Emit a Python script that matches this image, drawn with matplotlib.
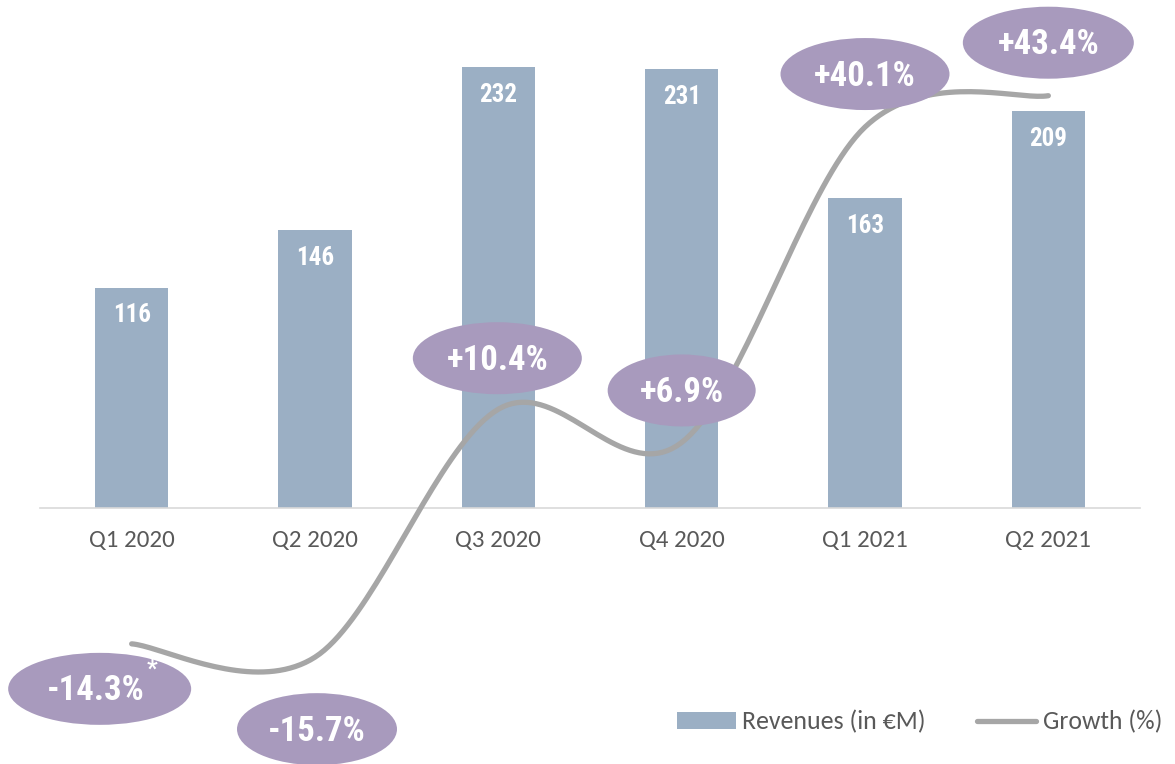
import numpy as np
import matplotlib.pyplot as plt
from matplotlib import transforms
from matplotlib.patches import Ellipse, Patch
from matplotlib.lines import Line2D

quarters = ['Q1 2020', 'Q2 2020', 'Q3 2020', 'Q4 2020', 'Q1 2021', 'Q2 2021']
revenues = [116, 146, 232, 231, 163, 209]
growth = [-14.3, -15.7, 10.4, 6.9, 40.1, 43.4]

BAR_COLOR = '#9BAFC4'
LINE_COLOR = '#A6A6A6'
BUBBLE_COLOR = '#A89ABD'
TEXT_GRAY = '#595959'
NARROW = ['Roboto Condensed', 'DejaVu Sans']
plt.rcParams['font.family'] = ['Carlito', 'DejaVu Sans']


def catmull_rom(xs, ys, n=40):
    """Smooth line through the points, like a spreadsheet's smoothed line."""
    pts = np.column_stack([xs, ys]).astype(float)
    pts = np.vstack([pts[0], pts, pts[-1]])
    out = []
    for k in range(1, len(pts) - 2):
        p0, p1, p2, p3 = pts[k - 1], pts[k], pts[k + 1], pts[k + 2]
        t = np.linspace(0, 1, n)[:, None]
        seg = 0.5 * ((2 * p1) + (-p0 + p2) * t
                     + (2 * p0 - 5 * p1 + 4 * p2 - p3) * t ** 2
                     + (-p0 + 3 * p1 - 3 * p2 + p3) * t ** 3)
        out.append(seg if k == 1 else seg[1:])
    out = np.vstack(out)
    return out[:, 0], out[:, 1]


def at_point(ax, i, v, dx, dy):
    # pixel offset from a data point
    return transforms.Affine2D().translate(dx, dy) + \
        transforms.ScaledTranslation(i, v, ax.transData)


fig = plt.figure(figsize=(11.75, 7.64), dpi=100)
H = 764
base_px = 508  # baseline, pixels from the top
ax = fig.add_axes([40 / 1175, 0, 1100 / 1175, 1])
x = np.arange(len(quarters))

bars = ax.bar(x, revenues, width=0.40, color=BAR_COLOR, zorder=2)
bar_scale = 441 / 232  # px per unit
ax.set_ylim(-(H - base_px) / bar_scale, base_px / bar_scale)
ax.set_xlim(-0.5, 5.5)

for rect, v in zip(bars, revenues):
    ax.annotate(f'{v}', xy=(rect.get_x() + rect.get_width() / 2, v),
                xytext=(0, -28), textcoords='offset pixels',
                ha='center', va='center', color='white',
                fontsize=18, fontweight='bold', family=NARROW, zorder=3)

for s in ['top', 'right', 'left']:
    ax.spines[s].set_visible(False)
ax.spines['bottom'].set_position(('data', 0))
ax.spines['bottom'].set_color('#D9D9D9')
ax.spines['bottom'].set_linewidth(1.2)
ax.set_yticks([])
ax.set_xticks(x, quarters)
ax.tick_params(axis='x', length=0, pad=16, labelsize=18, labelcolor=TEXT_GRAY)

# growth line on its own scale, zero lined up with the baseline
ax2 = ax.twinx()
g_scale = 9.5
ax2.set_ylim(-(H - base_px) / g_scale, base_px / g_scale)
ax2.set_yticks([])
for s in ax2.spines.values():
    s.set_visible(False)

sx, sy = catmull_rom(x, growth)
ax2.plot(sx, sy, color=LINE_COLOR, lw=3.8, solid_capstyle='round', zorder=4)

# bubble offsets (px) and widths
offsets = [(-32, -45), (2, -72), (-1, 51), (0, 52), (0, 53), (0, 53)]
widths = [183, 160, 169, 148, 169, 171]
for i, (g, (dx, dy), w) in enumerate(zip(growth, offsets, widths)):
    ax2.add_patch(Ellipse((0, 0), w, 72, transform=at_point(ax2, i, g, dx, dy),
                          facecolor=BUBBLE_COLOR, edgecolor='none',
                          clip_on=False, zorder=5))
    tx = -4 if i == 0 else 0
    ax2.text(0, 0, f'{g:+.1f}%', transform=at_point(ax2, i, g, dx + tx, dy - 2),
             ha='center', va='center', color='white', fontsize=25,
             fontweight='bold', family=NARROW, zorder=6, clip_on=False)
    if i == 0:
        ax2.text(0, 0, '*', transform=at_point(ax2, i, g, dx + 52, dy + 20),
                 ha='center', va='center', color='white', fontsize=17,
                 fontweight='bold', family=NARROW, zorder=6, clip_on=False)

handles = [Patch(facecolor=BAR_COLOR, edgecolor='none'),
           Line2D([], [], color=LINE_COLOR, lw=3.8, solid_capstyle='round')]
fig.legend(handles, ['Revenues (in €M)', 'Growth (%)'], ncol=2, frameon=False,
           loc='center right', bbox_to_anchor=(1162 / 1175, (H - 722) / H),
           fontsize=18.5, labelcolor=TEXT_GRAY, handlelength=2.3,
           handleheight=0.6, handletextpad=0.25, columnspacing=2.0,
           borderpad=0, borderaxespad=0)

fig.savefig('out.png', dpi=100)
